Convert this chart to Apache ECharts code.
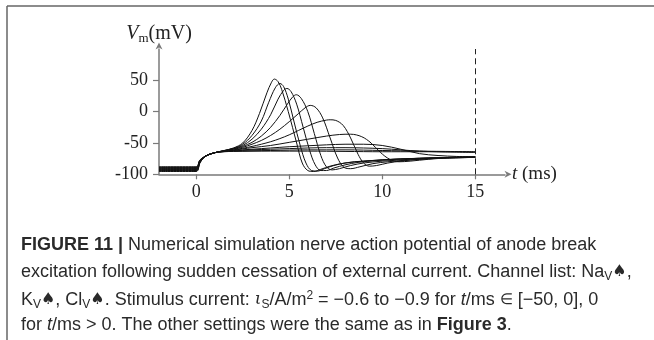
<!DOCTYPE html>
<html>
<head>
<meta charset="utf-8">
<script src="https://cdn.jsdelivr.net/npm/echarts@6/dist/echarts.min.js"></script>
<style>
  html, body { margin: 0; padding: 0; background: #fff; }
  #main { width: 654px; height: 340px; }
</style>
</head>
<body>
<div id="main"></div>
<script>
// 刻度
const xTicks = [0, 5, 10, 15]
const yTicks = [-100, -50, 0, 50]
const stopTime = 15

// 每条曲线 [t(ms), Vm(mV)]
const curve1 = [[-2, -95.5], [0, -95.5], [0.2, -82], [0.5, -71], [1, -65.5], [1.5, -62], [2, -58], [2.5, -50], [3, -30], [3.4, -3], [3.8, 30], [4.05, 47], [4.2, 52], [4.4, 48], [4.6, 35], [4.95, 0], [5.4, -50], [5.7, -82], [6, -94], [6.3, -95.5], [6.7, -92], [7.2, -87], [7.8, -83], [8.5, -80], [9.5, -78], [10.5, -76], [12, -74.5], [13.5, -73], [15, -72]]
const curve2 = [[-2, -94.7], [0, -94.7], [0.2, -81.5], [0.5, -71], [1, -65.5], [1.5, -62.2], [2, -58.5], [2.5, -52], [3, -38], [3.5, -15], [3.9, 15], [4.25, 38], [4.5, 45], [4.7, 40], [4.95, 20], [5.25, -15], [5.6, -55], [5.9, -82], [6.2, -94], [6.5, -95], [6.9, -91], [7.4, -86], [8, -82], [9, -79], [10, -77], [12, -74.5], [15, -72]]
const curve3 = [[-2, -94], [0, -94], [0.2, -81], [0.5, -71], [1, -65.5], [1.5, -62.4], [2, -59], [2.5, -54], [3, -44], [3.5, -28], [4, -5], [4.4, 20], [4.7, 34], [4.88, 37], [5.1, 32], [5.4, 12], [5.75, -25], [6.1, -62], [6.4, -85], [6.7, -94], [7, -94], [7.4, -90], [8, -85], [8.7, -81], [9.7, -78], [11, -75.5], [13, -73.5], [15, -72.5]]
const curve4 = [[-2, -93.2], [0, -93.2], [0.2, -80.5], [0.5, -71], [1, -65.5], [1.5, -62.6], [2, -59.5], [2.5, -55.5], [3, -49], [3.5, -39], [4, -25], [4.5, -6], [4.9, 12], [5.2, 24], [5.38, 27], [5.65, 21], [6, 0], [6.35, -35], [6.7, -70], [7, -88], [7.3, -93], [7.7, -91], [8.3, -86], [9, -82], [10, -79], [11.5, -76], [13, -74], [15, -72.5]]
const curve5 = [[-2, -92.5], [0, -92.5], [0.2, -80], [0.5, -71], [1, -65.5], [1.5, -62.8], [2, -60], [2.5, -57], [3, -52], [3.5, -46], [4, -38], [4.5, -28], [5, -16], [5.5, -3], [5.85, 6], [6.13, 10], [6.45, 6], [6.8, -10], [7.2, -42], [7.6, -74], [7.95, -89], [8.3, -91], [8.8, -88], [9.5, -83], [10.3, -80], [11.5, -77], [13, -74.5], [15, -73]]
const curve6 = [[-2, -91.7], [0, -91.7], [0.2, -79.5], [0.5, -71], [1, -65.5], [1.5, -63], [2, -61], [2.5, -58.5], [3, -55.5], [3.5, -52], [4, -48], [4.5, -43], [5, -37], [5.5, -30], [6, -23], [6.5, -17], [7, -13.5], [7.2, -13], [7.5, -14], [7.9, -22], [8.3, -42], [8.7, -68], [9, -82], [9.3, -87], [9.7, -86], [10.3, -82], [11, -79], [12, -76], [13.5, -74], [15, -73]]
const curve7 = [[-2, -91], [0, -91], [0.2, -79], [0.5, -71], [1, -65.5], [1.5, -63.2], [2, -61.5], [2.5, -59.5], [3, -57.5], [4, -54], [5, -49], [6, -44], [7, -39], [7.7, -36.5], [8.3, -36], [8.9, -40], [9.4, -50], [9.9, -65], [10.4, -76], [10.9, -80], [11.5, -79], [12.5, -76], [13.5, -74], [15, -73]]
const curve8 = [[-2, -90.2], [0, -90.2], [0.2, -78.5], [0.5, -71], [1, -65.5], [1.5, -63.4], [2, -62], [3, -60], [4, -58], [5, -56], [6, -54.5], [7, -53], [8, -52], [9, -52], [10, -54], [11, -60], [12, -67], [13, -70], [14, -71.5], [15, -72]]
const curve9 = [[-2, -89.5], [0, -89.5], [0.2, -78], [0.5, -71], [1, -65.5], [1.5, -63.6], [2, -62.6], [3, -61], [4, -60], [5, -59], [6, -58], [7, -57.5], [8, -57.5], [9, -58], [10, -59], [11, -61], [12, -63], [13, -64], [14, -64.5], [15, -65]]
const curve10 = [[-2, -88.7], [0, -88.7], [0.2, -77.5], [0.5, -71], [1, -65.5], [1.5, -63.8], [2, -63], [4, -62], [6, -61], [8, -61], [10, -62], [12, -63], [15, -64]]
const curve11 = [[-2, -88], [0, -88], [0.2, -77], [0.5, -71], [1, -65.5], [1.5, -64], [2, -63.5], [4, -63], [6, -63], [8, -63.5], [10, -64], [12, -64], [15, -64.5]]

const curves = [curve1, curve2, curve3, curve4, curve5, curve6, curve7, curve8, curve9, curve10, curve11]

const chart = echarts.init(document.getElementById('main'))

const axisGray = '#7a7a7a'
const serif = 'Liberation Serif'
const sans = 'Liberation Sans'
const arrow = 'path://M5,0 L10,10 L5,7 L0,10 Z'

const series = curves.map((c, i) => ({
  type: 'line',
  data: c,
  showSymbol: false,
  smooth: 0.35,
  lineStyle: { color: '#111', width: 1 },
  silent: true,
  markLine: i === 0 ? {
    symbol: 'none',
    silent: true,
    label: { show: false },
    lineStyle: { color: '#222', width: 1, type: [6, 4] },
    data: [{ xAxis: stopTime }]
  } : undefined
}))

const capColor = '#2a2a2a'
const capText = { fontFamily: sans, fontSize: 18, fill: capColor }
const capRich = {
  b: { fontFamily: sans, fontSize: 18, fontWeight: 'bold', fill: capColor },
  sub: { fontFamily: sans, fontSize: 12, fill: capColor, padding: [9, 0, 0, 0] },
  sup: { fontFamily: sans, fontSize: 12, fill: capColor, padding: [0, 0, 9, 0] },
  i: { fontFamily: sans, fontSize: 18, fontStyle: 'italic', fill: capColor },
  isub: { fontFamily: 'DejaVu Serif', fontSize: 17, fontStyle: 'italic', fill: capColor },
  sp: { fontFamily: 'DejaVu Sans', fontSize: 16, fill: capColor },
  el: { fontFamily: sans, fontSize: 15, fill: capColor }
}

const caption = [
  '{b|FIGURE 11 |} Numerical simulation nerve action potential of anode break',
  'excitation following sudden cessation of external current. Channel list: Na{sub|V}{sp|♠},',
  'K{sub|V}{sp|♠}, Cl{sub|V}{sp|♠}. Stimulus current: {isub|ι}{sub|S}/A/m{sup|2} = −0.6 to −0.9 for {i|t}/ms {el|∈} [−50, 0], 0',
  'for {i|t}/ms > 0. The other settings were the same as in {b|Figure 3}.'
]

chart.setOption({
  animation: false,
  grid: { left: 159, top: 49, width: 346, height: 125.3 },
  xAxis: {
    type: 'value',
    min: -2,
    max: 16.6,
    splitLine: { show: false },
    axisLine: { onZero: false, lineStyle: { color: axisGray, width: 1.5 }, symbol: ['none', arrow], symbolSize: [7, 7], symbolOffset: [0, 3] },
    axisTick: { customValues: xTicks, length: 5, lineStyle: { color: axisGray, width: 1.2 } },
    axisLabel: { customValues: xTicks, margin: 9, fontFamily: serif, fontSize: 18, color: '#222' },
    name: '{i|t} (ms)',
    nameLocation: 'end',
    nameGap: 7,
    nameTextStyle: {
      fontFamily: serif, fontSize: 19, color: '#222',
      rich: { i: { fontFamily: serif, fontStyle: 'italic', fontSize: 19, color: '#222' } }
    }
  },
  yAxis: {
    type: 'value',
    min: -100,
    max: 100,
    interval: 50,
    splitLine: { show: false },
    axisLine: { show: true, onZero: false, lineStyle: { color: axisGray, width: 1.5 }, symbol: ['none', arrow], symbolSize: [7, 7], symbolOffset: [0, 3] },
    axisTick: { show: true, customValues: yTicks, length: 6, lineStyle: { color: axisGray, width: 1.2 } },
    axisLabel: { customValues: yTicks, margin: 11, fontFamily: serif, fontSize: 18, color: '#222' },
    name: '{v|V}{m|m}(mV)',
    nameLocation: 'end',
    nameGap: 4,
    nameTextStyle: {
      fontFamily: serif, fontSize: 20, color: '#222',
      rich: {
        v: { fontFamily: serif, fontStyle: 'italic', fontSize: 20, color: '#222' },
        m: { fontFamily: serif, fontSize: 13, color: '#222', padding: [9, 0, 0, 0] }
      }
    }
  },
  series: series,
  graphic: [
    { type: 'line', shape: { x1: 7, y1: 6, x2: 654, y2: 6 }, style: { stroke: '#666', lineWidth: 1.5 }, silent: true },
    { type: 'line', shape: { x1: 7, y1: 6, x2: 7, y2: 340 }, style: { stroke: '#666', lineWidth: 1.5 }, silent: true }
  ].concat(caption.map((line, i) => ({
    type: 'text',
    left: 21,
    top: 236 + i * 26.7,
    silent: true,
    style: Object.assign({ text: line, rich: capRich }, capText)
  })))
})
</script>
</body>
</html>
